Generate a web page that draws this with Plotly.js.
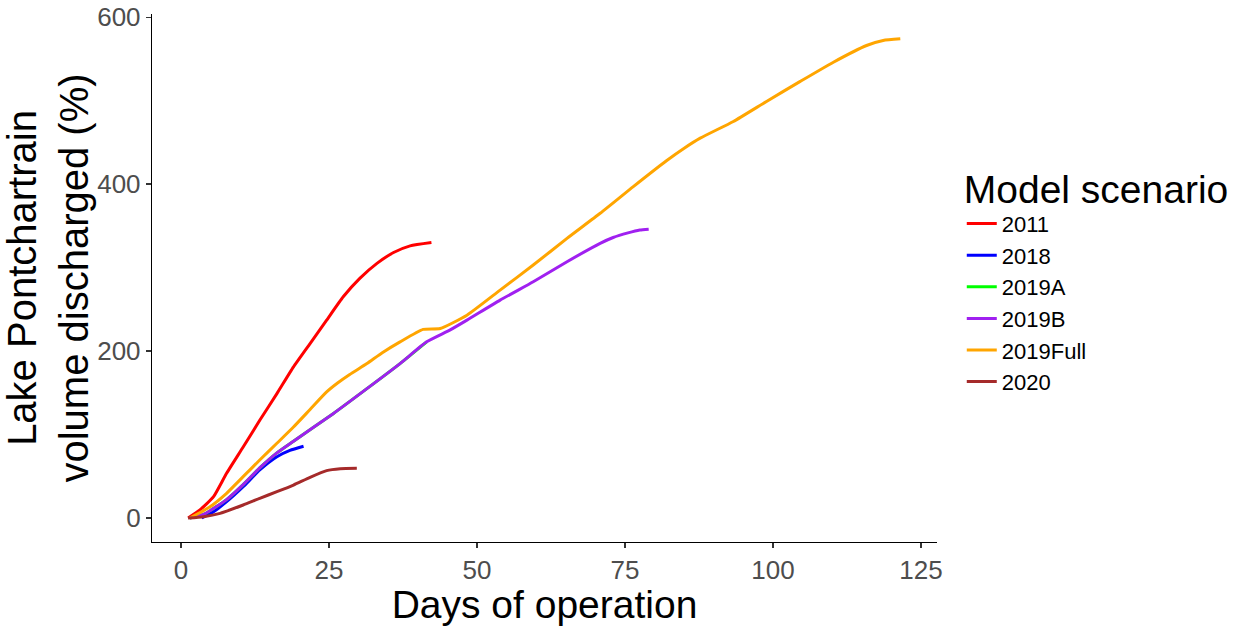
<!DOCTYPE html>
<html>
<head>
<meta charset="utf-8">
<script src="https://cdn.plot.ly/plotly-3.0.1.min.js"></script>
<style>body{margin:0;background:#fff;} #chart{width:1241px;height:626px;}</style>
</head>
<body>
<div id="chart"></div>
<script>
const scenarios = ["2011", "2018", "2019A", "2019B", "2019Full", "2020"];
const colors = ["#FF0000", "#0000FF", "#00FF00", "#A020F0", "#FFA500", "#A52A2A"];

const days2011 = [1.2, 3.2, 5.5, 7.7, 10.5, 13.3, 16.2, 19, 21.8, 24.6, 27.4, 30.2, 33.1, 35.9, 38.7, 42.3];
const vol2011  = [0, 9.6, 25.5, 53.5, 85, 117, 149, 181, 209, 237, 265, 287, 305, 318, 326, 330];

const days2018 = [3.5, 5.5, 7.7, 10.5, 13.3, 16.2, 18.4, 20.7];
const vol2018  = [0, 7.5, 19.5, 37.5, 57.5, 73.4, 81, 86];

const days2019A = [1.5, 4, 7.7, 10.5, 13.3, 16.2, 19, 25.7, 31.4, 37, 41.5];
const vol2019A  = [0, 5, 22, 40, 60, 78, 92, 125, 155, 185, 211];

const days2019B = [1.5, 4, 7.7, 10.5, 13.3, 16.2, 19, 25.7, 31.4, 37, 41.5, 45.4, 48.3, 53.9, 59.5, 65.2, 70.8, 73, 75.5, 77.5, 79];
const vol2019B  = [0, 5, 22, 40, 60, 78, 92, 125, 155, 185, 211, 225, 237, 261, 283, 307, 329, 336, 341.5, 345, 346];

const days2019Full = [1.5, 4.9, 7.7, 10.5, 13.3, 16.2, 19, 21.8, 24.6, 26.5, 28.5, 31.4, 34, 37, 40.9, 43.8, 48.3, 53.9, 59.5, 65.2, 70.8, 76.4, 82, 85, 87.7, 93.3, 98.9, 104.6, 110.2, 115.8, 118.6, 121.5];
const vol2019Full  = [0, 13.5, 29.6, 49.5, 69.5, 89.5, 109, 130, 151, 162, 172, 185, 198, 211, 226, 227, 243, 273, 303, 335, 365, 397, 428, 443, 455, 475, 499, 523, 546, 566, 572, 574];

const days2020 = [1.2, 3.8, 6.6, 10.5, 13.3, 16.2, 19, 21.8, 24.6, 26.9, 29.7];
const vol2020  = [0, 1.6, 5.6, 15.6, 23.6, 31.5, 39.5, 48.7, 56.7, 59, 59.5];

const xs = [days2011, days2018, days2019A, days2019B, days2019Full, days2020];
const ys = [vol2011, vol2018, vol2019A, vol2019B, vol2019Full, vol2020];

const yTicks = [0, 200, 400, 600];
const xTicks = [0, 25, 50, 75, 100, 125];

const traces = scenarios.map((name, i) => ({
  x: xs[i], y: ys[i], name: name, type: "scatter", mode: "lines",
  line: {color: colors[i], width: 3, shape: "spline", smoothing: 0.5}
}));

const font = "Liberation Sans, Arial, sans-serif";
const layout = {
  width: 1241, height: 626,
  margin: {l: 152, r: 304, t: 14, b: 84},
  paper_bgcolor: "#fff", plot_bgcolor: "#fff",
  font: {family: font, color: "#000"},
  showlegend: true,
  xaxis: {
    range: [-4.9, 127.7], tickvals: xTicks, ticktext: xTicks.map(String),
    showgrid: false, zeroline: false, showline: true, linecolor: "#000", linewidth: 1.2,
    ticks: "outside", ticklen: 5, tickcolor: "#333", tickwidth: 1.2,
    tickfont: {size: 26, color: "#4D4D4D", family: font},
    title: {text: "Days of operation", font: {size: 39, color: "#000", family: font}, standoff: 1}
  },
  yaxis: {
    range: [-28.75, 603.75], tickvals: yTicks, ticktext: yTicks.map(String),
    showgrid: false, zeroline: false, showline: true, linecolor: "#000", linewidth: 1.2,
    ticks: "outside", ticklen: 5, tickcolor: "#333", tickwidth: 1.2,
    tickfont: {size: 26, color: "#4D4D4D", family: font},
    title: {text: "Lake Pontchartrain<br>volume discharged (%)", font: {size: 40, color: "#000", family: font}, standoff: 8}
  },
  legend: {
    xref: "container", yref: "container", x: 0.775, y: 0.757, xanchor: "left", yanchor: "top",
    font: {size: 22, family: font, color: "#000"},
    title: {text: "Model scenario", font: {size: 39, family: font, color: "#000"}},
    tracegroupgap: 0, itemwidth: 30
  }
};

Plotly.newPlot("chart", traces, layout, {displayModeBar: false, staticPlot: true});
</script>
</body>
</html>
